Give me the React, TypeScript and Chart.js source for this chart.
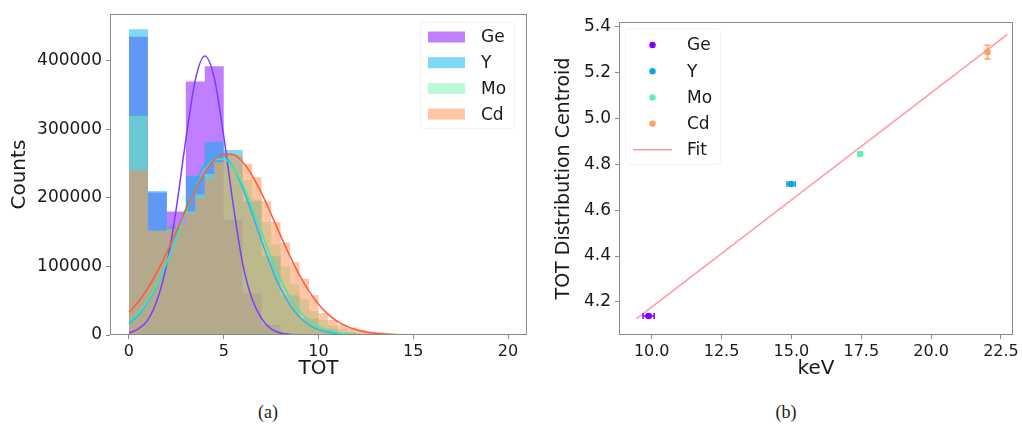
import React, { useEffect, useRef } from 'react';
import { Chart, registerables } from 'chart.js';

Chart.register(...registerables);

// ---------- shared ----------
const ELEMENTS = ['Ge', 'Y', 'Mo', 'Cd'];

// ---------- (a) TOT histograms ----------
const COARSE_BIN = 1; // Ge, Y bin width (TOT)
const FINE_BIN = 0.5; // Mo, Cd bin width (TOT)

const GE_COUNTS = [435000, 208000, 180000, 370000, 392000, 168000, 60000, 15000, 3000, 500, 100, 30, 0, 0, 0, 0, 0, 0, 0, 0];
const Y_COUNTS = [446000, 210000, 158000, 232000, 282000, 270000, 195000, 115000, 58000, 24000, 9000, 3000, 1000, 400, 150, 50, 20, 0, 0, 0];
const MO_COUNTS = [
  320000, 320000, 152000, 152000, 155000, 160000, 180000, 205000, 235000, 252000,
  258000, 248000, 226000, 198000, 165000, 132000, 100000, 74000, 52000, 35000,
  22000, 14000, 8500, 5000, 3000, 1800, 1000, 600, 350, 200,
  120, 80, 50, 30, 20, 10, 5, 0, 0, 0,
];
const CD_COUNTS = [
  240000, 240000, 152000, 152000, 155000, 162000, 178000, 200000, 228000, 252000,
  265000, 262000, 250000, 230000, 195000, 165000, 135000, 106000, 82000, 58000,
  32000, 22000, 15000, 11000, 8000, 5000, 3500, 2200, 1500, 1000,
  600, 400, 250, 150, 100, 80, 60, 40, 30, 20,
];

const FIT_TOT = [
  0, 0.5, 1, 1.5, 2, 2.5, 3, 3.5, 4, 4.5, 5, 5.5, 6, 6.5, 7, 7.5, 8, 8.5, 9, 9.5,
  10, 10.5, 11, 11.5, 12, 12.5, 13, 13.5, 14, 14.5, 15, 15.5, 16, 16.5, 17, 17.5, 18, 18.5, 19, 19.5, 20,
];
const GE_FIT = [
  3000, 9000, 22000, 52000, 104000, 185000, 285000, 372000, 407000, 375000,
  290000, 190000, 104000, 52000, 24000, 9000, 3000, 800, 200, 50,
  0, 0, 0, 0, 0, 0, 0, 0, 0, 0, 0, 0, 0, 0, 0, 0, 0, 0, 0, 0, 0,
];
const Y_FIT = [
  16700, 29200, 47900, 73700, 106500, 144700, 184700, 221300, 249300, 263700,
  262000, 244600, 214500, 176800, 136800, 99400, 67900, 43600, 26300, 14900,
  7900, 3900, 1850, 820, 340, 130, 50, 20, 0, 0, 0, 0, 0, 0, 0, 0, 0, 0, 0, 0, 0,
];
const MO_FIT = [
  18900, 31700, 50200, 75000, 106100, 141600, 178700, 213000, 239900, 255400,
  256800, 244000, 219100, 185900, 149000, 112900, 80800, 54600, 34900, 21100,
  12000, 6500, 3300, 1600, 720, 310, 130, 50, 20, 0, 0, 0, 0, 0, 0, 0, 0, 0, 0, 0, 0,
];
const CD_FIT = [
  33100, 48400, 68200, 92400, 120500, 151300, 182600, 212200, 237200, 255200,
  264200, 263200, 252300, 232700, 206500, 176400, 145000, 114700, 87300, 63900,
  45000, 30500, 19900, 12500, 7600, 4400, 2500, 1300, 690, 340,
  160, 70, 30, 15, 0, 0, 0, 0, 0, 0, 0,
];

const TOT_TICKS = [0, 5, 10, 15, 20];
const COUNT_TICKS = [0, 100000, 200000, 300000, 400000];

// ---------- (b) centroid vs energy ----------
const KEV = [9.89, 14.99, 17.46, 22.02];
const CENTROID = [4.139, 4.714, 4.845, 5.289];
const KEV_ERR = [0.2, 0.15, 0.05, 0.06];
const CENTROID_ERR = [0.006, 0.008, 0.008, 0.03];
const FIT_KEV = [9.46, 22.73];
const FIT_CENTROID = [4.127, 5.366];
const KEV_TICKS = [10, 12.5, 15, 17.5, 20, 22.5];
const CENTROID_TICKS = [4.2, 4.4, 4.6, 4.8, 5.0, 5.2, 5.4];

// ---------- styles ----------
const FONT = "'DejaVu Sans', sans-serif";
const TEXT = '#1a1a1a';
const SPINE = '#8a8a8a';
const HIST_FILL = ['rgba(128,0,255,0.5)', 'rgba(0,180,235,0.5)', 'rgba(120,245,175,0.5)', 'rgba(255,140,74,0.5)'];
const HIST_LINE = ['#7b3cff', '#1fb8f0', '#3ee8b0', '#ff5a3c'];
const POINT_COLOR = ['#8000ff', '#0aa8e2', '#5cf2b6', '#ffa060'];
const FIT_COLOR = 'rgba(255,70,90,0.55)';

const framePlugin = {
  id: 'frameBox',
  afterDatasetsDraw(chart: any) {
    const { ctx, chartArea: a } = chart;
    ctx.save();
    ctx.strokeStyle = SPINE;
    ctx.lineWidth = 1;
    ctx.strokeRect(Math.round(a.left) + 0.5, Math.round(a.top) + 0.5, Math.round(a.right - a.left) - 1, Math.round(a.bottom - a.top) - 1);
    ctx.restore();
  },
};

type LegendItem = { label: string; color: string; kind: 'patch' | 'dot' | 'line' };

function makeLegend(items: LegendItem[], cfg: { fx: number; fy: number; fw: number; fh: number; mx: number; mw: number; tx: number; y0: number; dy: number }) {
  return {
    id: 'boxLegend',
    afterDraw(chart: any) {
      const ctx = chart.ctx;
      ctx.save();
      ctx.fillStyle = 'rgba(255,255,255,0.8)';
      ctx.strokeStyle = 'rgba(0,0,0,0.05)';
      ctx.lineWidth = 1;
      ctx.beginPath();
      (ctx as any).roundRect(cfg.fx + 0.5, cfg.fy + 0.5, cfg.fw, cfg.fh, 3);
      ctx.fill();
      ctx.stroke();
      items.forEach((it, i) => {
        const y = cfg.y0 + i * cfg.dy;
        if (it.kind === 'patch') {
          ctx.fillStyle = it.color;
          ctx.fillRect(cfg.mx, y - 5.5, cfg.mw, 11);
        } else if (it.kind === 'dot') {
          ctx.fillStyle = it.color;
          ctx.beginPath();
          ctx.arc(cfg.mx + cfg.mw / 2, y, 3.2, 0, Math.PI * 2);
          ctx.fill();
        } else {
          ctx.strokeStyle = it.color;
          ctx.lineWidth = 1.5;
          ctx.beginPath();
          ctx.moveTo(cfg.mx, y);
          ctx.lineTo(cfg.mx + cfg.mw, y);
          ctx.stroke();
        }
        ctx.fillStyle = TEXT;
        ctx.font = `17px ${FONT}`;
        ctx.textAlign = 'left';
        ctx.textBaseline = 'middle';
        ctx.fillText(it.label, cfg.tx, y + 1);
      });
      ctx.restore();
    },
  };
}

const errorBarPlugin = {
  id: 'errorBars',
  afterDatasetsDraw(chart: any) {
    const { ctx } = chart;
    const xs = chart.scales.x;
    const ys = chart.scales.y;
    ctx.save();
    ctx.lineWidth = 1.5;
    KEV.forEach((k, i) => {
      const px = xs.getPixelForValue(k);
      const py = ys.getPixelForValue(CENTROID[i]);
      const x0 = xs.getPixelForValue(k - KEV_ERR[i]);
      const x1 = xs.getPixelForValue(k + KEV_ERR[i]);
      const y0 = ys.getPixelForValue(CENTROID[i] - CENTROID_ERR[i]);
      const y1 = ys.getPixelForValue(CENTROID[i] + CENTROID_ERR[i]);
      ctx.strokeStyle = POINT_COLOR[i];
      ctx.beginPath();
      ctx.moveTo(x0, py); ctx.lineTo(x1, py);
      ctx.moveTo(x0, py - 3); ctx.lineTo(x0, py + 3);
      ctx.moveTo(x1, py - 3); ctx.lineTo(x1, py + 3);
      ctx.moveTo(px, y0); ctx.lineTo(px, y1);
      ctx.moveTo(px - 3, y0); ctx.lineTo(px + 3, y0);
      ctx.moveTo(px - 3, y1); ctx.lineTo(px + 3, y1);
      ctx.stroke();
    });
    ctx.restore();
  },
};

function histPoints(counts: number[], width: number) {
  const pts = counts.map((c, i) => ({ x: i * width, y: c }));
  pts.push({ x: counts.length * width, y: 0 });
  return pts;
}

function tickFont(size: number) {
  return { size, family: FONT };
}

function HistChart() {
  const ref = useRef<HTMLCanvasElement>(null);
  useEffect(() => {
    const series = [
      histPoints(GE_COUNTS, COARSE_BIN),
      histPoints(Y_COUNTS, COARSE_BIN),
      histPoints(MO_COUNTS, FINE_BIN),
      histPoints(CD_COUNTS, FINE_BIN),
    ];
    const fits = [GE_FIT, Y_FIT, MO_FIT, CD_FIT];
    const datasets: any[] = [];
    series.forEach((pts, i) => {
      datasets.push({
        label: ELEMENTS[i],
        data: pts,
        stepped: 'before',
        fill: 'origin',
        backgroundColor: HIST_FILL[i],
        borderColor: 'rgba(0,0,0,0)',
        borderWidth: 1,
        pointRadius: 0,
        order: 10 - i,
      });
    });
    fits.forEach((f, i) => {
      datasets.push({
        label: ELEMENTS[i] + ' fit',
        data: FIT_TOT.map((t, j) => ({ x: t, y: f[j] })),
        borderColor: HIST_LINE[i],
        borderWidth: 1.5,
        pointRadius: 0,
        fill: false,
        cubicInterpolationMode: 'monotone',
        order: 4 - i,
      });
    });
    const legend = makeLegend(
      ELEMENTS.map((e, i) => ({ label: e, color: HIST_FILL[i], kind: 'patch' as const })),
      { fx: 420, fy: 22, fw: 94, fh: 106, mx: 428, mw: 37, tx: 481, y0: 37, dy: 25.7 }
    );
    const chart = new Chart(ref.current!, {
      type: 'line',
      data: { datasets },
      options: {
        animation: false,
        responsive: false,
        maintainAspectRatio: false,
        layout: { padding: { left: 0, top: 10, right: 13, bottom: 0 } },
        plugins: { legend: { display: false }, tooltip: { enabled: false } },
        scales: {
          x: {
            type: 'linear',
            min: -1,
            max: 21,
            afterFit: (s: any) => { s.height = 55; },
            afterBuildTicks: (s: any) => { s.ticks = TOT_TICKS.map((v) => ({ value: v })); },
            ticks: { callback: (v: any) => String(v), color: TEXT, font: tickFont(16), padding: 3, maxRotation: 0 },
            grid: { display: true, drawOnChartArea: false, drawTicks: true, tickLength: 4, color: SPINE },
            border: { display: false },
            title: { display: true, text: 'TOT', color: TEXT, font: { size: 20, family: FONT }, padding: { top: 0, bottom: 9 } },
          },
          y: {
            type: 'linear',
            min: 0,
            max: 468000,
            afterFit: (s: any) => { s.width = 110; },
            afterBuildTicks: (s: any) => { s.ticks = COUNT_TICKS.map((v) => ({ value: v })); },
            ticks: { callback: (v: any) => String(v), color: TEXT, font: tickFont(17), padding: 4 },
            grid: { display: true, drawOnChartArea: false, drawTicks: true, tickLength: 4, color: SPINE },
            border: { display: false },
            title: { display: true, text: 'Counts', color: TEXT, font: { size: 20, family: FONT }, padding: { top: 8, bottom: 0 } },
          },
        },
      } as any,
      plugins: [framePlugin, legend],
    });
    return () => chart.destroy();
  }, []);
  return <canvas ref={ref} width={540} height={390} style={{ position: 'absolute', left: 0, top: 0, width: 540, height: 390 }} />;
}

function CentroidChart() {
  const ref = useRef<HTMLCanvasElement>(null);
  useEffect(() => {
    const datasets: any[] = ELEMENTS.map((e, i) => ({
      label: e,
      data: [{ x: KEV[i], y: CENTROID[i] }],
      backgroundColor: POINT_COLOR[i],
      borderWidth: 0,
      pointRadius: 3.2,
      order: 1,
    }));
    datasets.push({
      label: 'Fit',
      data: FIT_KEV.map((k, j) => ({ x: k, y: FIT_CENTROID[j] })),
      showLine: true,
      borderColor: FIT_COLOR,
      borderWidth: 1.5,
      pointRadius: 0,
      order: 0,
    });
    const legendItems: LegendItem[] = ELEMENTS.map((e, i) => ({ label: e, color: POINT_COLOR[i], kind: 'dot' as const }));
    legendItems.push({ label: 'Fit', color: FIT_COLOR, kind: 'line' });
    const legend = makeLegend(legendItems, { fx: 85, fy: 28, fw: 95, fh: 136, mx: 93, mw: 39, tx: 147, y0: 45, dy: 26.2 });
    const chart = new Chart(ref.current!, {
      type: 'scatter',
      data: { datasets },
      options: {
        animation: false,
        responsive: false,
        maintainAspectRatio: false,
        layout: { padding: { left: 0, top: 22, right: 7, bottom: 0 } },
        plugins: { legend: { display: false }, tooltip: { enabled: false } },
        scales: {
          x: {
            type: 'linear',
            min: 8.83,
            max: 22.93,
            afterFit: (s: any) => { s.height = 55; },
            afterBuildTicks: (s: any) => { s.ticks = KEV_TICKS.map((v) => ({ value: v })); },
            ticks: { callback: (v: any) => Number(v).toFixed(1), color: TEXT, font: tickFont(16), padding: 3, maxRotation: 0 },
            grid: { display: true, drawOnChartArea: false, drawTicks: true, tickLength: 4, color: SPINE },
            border: { display: false },
            title: { display: true, text: 'keV', color: TEXT, font: { size: 20, family: FONT }, padding: { top: 0, bottom: 9 } },
          },
          y: {
            type: 'linear',
            min: 4.056,
            max: 5.42,
            afterFit: (s: any) => { s.width = 79; },
            afterBuildTicks: (s: any) => { s.ticks = CENTROID_TICKS.map((v) => ({ value: v })); },
            ticks: { callback: (v: any) => Number(v).toFixed(1), color: TEXT, font: tickFont(17), padding: 4 },
            grid: { display: true, drawOnChartArea: false, drawTicks: true, tickLength: 4, color: SPINE },
            border: { display: false },
            title: { display: true, text: 'TOT Distribution Centroid', color: TEXT, font: { size: 19, family: FONT }, padding: { top: 13, bottom: 0 } },
          },
        },
      } as any,
      plugins: [framePlugin, errorBarPlugin, legend],
    });
    return () => chart.destroy();
  }, []);
  return <canvas ref={ref} width={482} height={390} style={{ position: 'absolute', left: 540, top: 0, width: 482, height: 390 }} />;
}

const captionStyle: React.CSSProperties = {
  position: 'absolute',
  top: 402,
  width: 60,
  textAlign: 'center',
  fontFamily: "'Liberation Serif', 'DejaVu Serif', serif",
  fontSize: 18,
  lineHeight: '20px',
  color: TEXT,
};

export default function App() {
  return (
    <div style={{ position: 'absolute', left: 0, top: 0, width: 1022, height: 427, background: '#fff', overflow: 'hidden' }}>
      <HistChart />
      <CentroidChart />
      <div style={{ ...captionStyle, left: 238 }}>(a)</div>
      <div style={{ ...captionStyle, left: 756 }}>(b)</div>
    </div>
  );
}
